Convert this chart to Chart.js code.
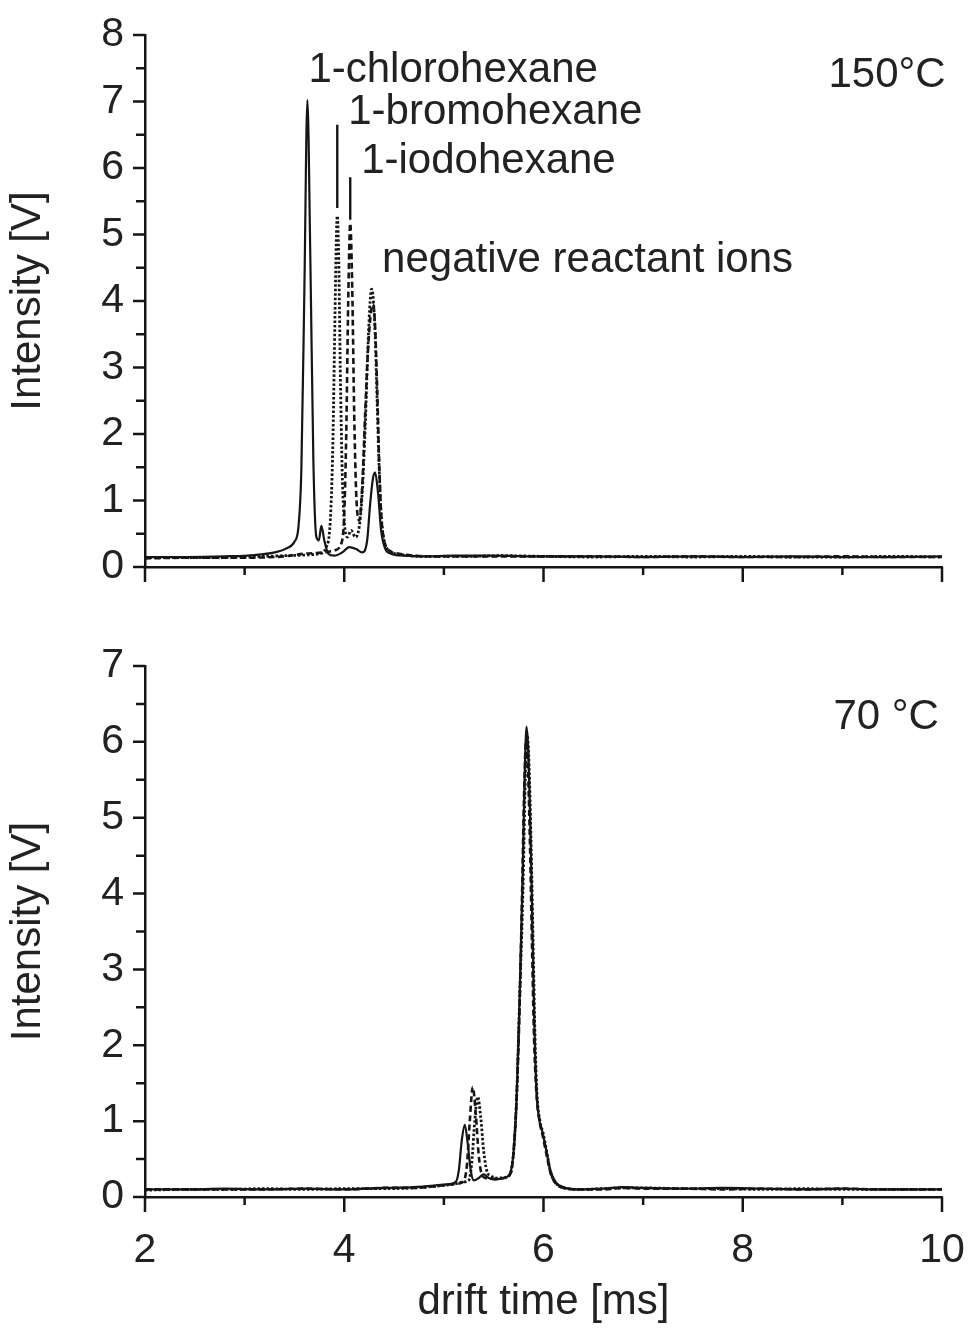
<!DOCTYPE html>
<html>
<head>
<meta charset="utf-8">
<script src="https://cdn.jsdelivr.net/npm/chart.js@4.4.0/dist/chart.umd.min.js"></script>
<style>
  html, body { margin: 0; padding: 0; background: #fff; }
  #wrap { position: relative; width: 968px; height: 1332px; }
  #wrap canvas { position: absolute; left: 0; }
</style>
</head>
<body>
<div id="wrap">
  <canvas id="hot" width="968" height="620" style="top:0"></canvas>
  <canvas id="cold" width="968" height="712" style="top:620px"></canvas>
</div>
<script>
// drift time [ms], intensity [V]
// 150 °C
const chloro150 = [
  [2.0,0.15],[2.4,0.15],[2.8,0.16],[3.1,0.18],[3.3,0.22],[3.42,0.28],[3.5,0.38],[3.54,0.6],
  [3.57,1.5],[3.6,4.2],[3.63,7.02],[3.66,4.6],[3.69,1.6],[3.72,0.45],[3.745,0.4],[3.77,0.62],
  [3.8,0.4],[3.84,0.2],[3.9,0.17],[3.98,0.22],[4.05,0.3],[4.12,0.27],[4.18,0.22],[4.23,0.4],
  [4.26,0.95],[4.29,1.35],[4.31,1.42],[4.34,1.1],[4.37,0.55],[4.41,0.28],[4.47,0.2],[4.6,0.17],
  [4.8,0.16],[5.1,0.17],[5.5,0.17],[6.0,0.16],[6.5,0.16],[7.0,0.15],[7.5,0.16],[8.0,0.15],
  [8.5,0.16],[9.0,0.15],[9.5,0.15],[10.0,0.16]
];
const bromo150 = [
  [2.0,0.14],[2.5,0.14],[3.0,0.15],[3.4,0.17],[3.6,0.18],[3.75,0.2],[3.82,0.3],[3.86,0.7],
  [3.885,1.8],[3.905,3.6],[3.92,4.9],[3.93,5.28],[3.945,4.6],[3.96,3.0],[3.98,1.4],[4.0,0.7],
  [4.03,0.45],[4.07,0.55],[4.11,0.45],[4.15,0.6],[4.18,1.1],[4.21,2.1],[4.24,3.4],[4.26,4.0],
  [4.275,4.18],[4.29,4.05],[4.31,3.5],[4.33,2.5],[4.35,1.5],[4.37,0.8],[4.4,0.4],[4.45,0.25],
  [4.6,0.18],[4.8,0.16],[5.2,0.16],[5.6,0.17],[6.0,0.16],[6.5,0.15],[7.0,0.16],[7.5,0.15],
  [8.0,0.16],[8.5,0.15],[9.0,0.15],[9.5,0.16],[10.0,0.15]
];
const iodo150 = [
  [2.0,0.13],[2.5,0.14],[3.0,0.14],[3.4,0.16],[3.6,0.2],[3.8,0.22],[3.9,0.25],[3.97,0.35],
  [4.0,0.8],[4.02,2.0],[4.04,4.0],[4.06,5.17],[4.08,4.2],[4.1,2.3],[4.12,1.1],[4.15,0.7],
  [4.18,1.2],[4.21,2.3],[4.24,3.3],[4.27,3.85],[4.29,3.95],[4.31,3.6],[4.33,2.7],[4.35,1.6],
  [4.37,0.8],[4.4,0.4],[4.45,0.25],[4.55,0.2],[4.7,0.17],[5.0,0.16],[5.5,0.16],[6.0,0.16],
  [6.5,0.16],[7.0,0.15],[7.5,0.16],[8.0,0.15],[8.5,0.15],[9.0,0.16],[9.5,0.15],[10.0,0.15]
];

// 70 °C
const chloro70 = [
  [2.0,0.1],[2.4,0.1],[2.8,0.11],[3.2,0.1],[3.6,0.11],[4.0,0.1],[4.4,0.12],[4.7,0.13],
  [4.9,0.15],[5.05,0.17],[5.12,0.2],[5.15,0.35],[5.18,0.75],[5.21,0.95],[5.24,0.7],[5.27,0.35],
  [5.3,0.22],[5.35,0.25],[5.4,0.3],[5.45,0.25],[5.52,0.23],[5.6,0.25],[5.66,0.3],[5.7,0.6],
  [5.73,1.3],[5.76,2.6],[5.79,4.2],[5.81,5.5],[5.83,6.2],[5.85,5.8],[5.87,4.8],[5.89,3.5],
  [5.91,2.2],[5.93,1.4],[5.96,1.0],[5.99,0.85],[6.03,0.6],[6.07,0.35],[6.12,0.2],[6.2,0.13],
  [6.35,0.1],[6.6,0.11],[6.8,0.13],[7.0,0.12],[7.4,0.11],[7.8,0.12],[8.2,0.11],[8.6,0.1],
  [9.0,0.11],[9.4,0.1],[10.0,0.1]
];
const bromo70 = [
  [2.0,0.09],[2.4,0.1],[2.8,0.1],[3.2,0.11],[3.6,0.1],[4.0,0.11],[4.4,0.11],[4.7,0.12],
  [4.9,0.14],[5.1,0.17],[5.2,0.2],[5.25,0.22],[5.28,0.45],[5.31,1.0],[5.34,1.32],[5.37,1.05],
  [5.4,0.6],[5.43,0.35],[5.47,0.28],[5.55,0.25],[5.62,0.26],[5.67,0.32],[5.7,0.6],[5.73,1.3],
  [5.76,2.6],[5.795,4.1],[5.815,5.4],[5.835,6.1],[5.855,5.7],[5.875,4.7],[5.895,3.4],[5.915,2.1],
  [5.935,1.35],[5.965,1.0],[5.995,0.85],[6.035,0.58],[6.07,0.33],[6.12,0.19],[6.2,0.12],[6.35,0.1],
  [6.6,0.11],[6.8,0.12],[7.0,0.12],[7.4,0.11],[7.8,0.11],[8.2,0.1],[8.6,0.11],[9.0,0.1],
  [9.4,0.1],[10.0,0.1]
];
const iodo70 = [
  [2.0,0.1],[2.4,0.1],[2.8,0.1],[3.2,0.1],[3.6,0.11],[4.0,0.1],[4.4,0.12],[4.7,0.12],
  [4.9,0.14],[5.1,0.17],[5.18,0.19],[5.23,0.4],[5.26,1.0],[5.29,1.45],[5.32,1.1],[5.35,0.55],
  [5.38,0.3],[5.42,0.25],[5.5,0.24],[5.6,0.25],[5.67,0.31],[5.7,0.6],[5.73,1.3],[5.76,2.5],
  [5.785,4.0],[5.805,5.3],[5.825,6.0],[5.845,5.6],[5.865,4.6],[5.885,3.3],[5.905,2.1],[5.93,1.35],
  [5.96,1.0],[5.99,0.82],[6.03,0.56],[6.07,0.32],[6.12,0.18],[6.2,0.12],[6.35,0.1],[6.6,0.1],
  [6.8,0.12],[7.0,0.11],[7.4,0.11],[7.8,0.1],[8.2,0.11],[8.6,0.1],[9.0,0.11],[9.4,0.1],
  [10.0,0.1]
];

const xMajorTicks = [2, 4, 6, 8, 10];
const xMinorTicks = [3, 5, 7, 9];
const yMajorHot = [0, 1, 2, 3, 4, 5, 6, 7, 8];
const yMinorHot = [0.5, 1.5, 2.5, 3.5, 4.5, 5.5, 6.5, 7.5];
const yMajorCold = [0, 1, 2, 3, 4, 5, 6, 7];
const yMinorCold = [0.5, 1.5, 2.5, 3.5, 4.5, 5.5, 6.5];

const INK = '#151515';
const TEXT = '#222';
const FONT = "'Liberation Sans', Arial, sans-serif";

function series(points, dash, width) {
  return {
    data: points.map(p => ({ x: p[0], y: p[1] })),
    borderColor: INK,
    borderWidth: width || 2,
    borderDash: dash,
    pointRadius: 0,
    fill: false,
    cubicInterpolationMode: 'monotone'
  };
}

// ticks (outward, major/minor), text labels and marker lines
function decor(yMajor, yMinor, notes, markers) {
  return {
    id: 'decor',
    afterDraw(chart) {
      const { ctx, chartArea } = chart;
      const xs = chart.scales.x, ys = chart.scales.y;
      ctx.save();
      ctx.strokeStyle = INK;
      ctx.lineWidth = 2.5;
      ctx.beginPath();
      yMajor.forEach(v => { const p = ys.getPixelForValue(v); ctx.moveTo(chartArea.left - 12, p); ctx.lineTo(chartArea.left, p); });
      yMinor.forEach(v => { const p = ys.getPixelForValue(v); ctx.moveTo(chartArea.left - 9, p); ctx.lineTo(chartArea.left, p); });
      xMajorTicks.forEach(v => { const p = xs.getPixelForValue(v); ctx.moveTo(p, chartArea.bottom); ctx.lineTo(p, chartArea.bottom + 15); });
      xMinorTicks.forEach(v => { const p = xs.getPixelForValue(v); ctx.moveTo(p, chartArea.bottom); ctx.lineTo(p, chartArea.bottom + 8); });
      ctx.stroke();

      ctx.lineWidth = 2.4;
      ctx.beginPath();
      markers.forEach(m => {
        const px = xs.getPixelForValue(m.x);
        ctx.moveTo(px, ys.getPixelForValue(m.from));
        ctx.lineTo(px, ys.getPixelForValue(m.to));
      });
      ctx.stroke();

      ctx.fillStyle = TEXT;
      ctx.font = '42px ' + FONT;
      ctx.textBaseline = 'alphabetic';
      ctx.textAlign = 'left';
      notes.forEach(n => ctx.fillText(n.text, xs.getPixelForValue(n.x), ys.getPixelForValue(n.y)));
      ctx.restore();
    }
  };
}

function options(yMax, showX, padTop, xHeight) {
  return {
    responsive: false,
    animation: false,
    layout: { padding: { top: padTop, right: 26, left: 0, bottom: 0 } },
    plugins: { legend: { display: false }, tooltip: { enabled: false } },
    scales: {
      x: {
        type: 'linear', min: 2, max: 10,
        grid: { display: true, drawOnChartArea: false, drawTicks: false },
        border: { display: true, color: INK, width: 2.5 },
        ticks: { display: showX, stepSize: 2, padding: 29, color: TEXT, font: { family: FONT, size: 41 } },
        title: { display: showX, text: 'drift time [ms]', color: TEXT, font: { family: FONT, size: 42 }, padding: { top: 0, bottom: 4 } },
        afterFit(s) { s.height = xHeight; s.paddingLeft = 0; s.paddingRight = 0; }
      },
      y: {
        min: 0, max: yMax,
        grid: { display: true, drawOnChartArea: false, drawTicks: false },
        border: { display: true, color: INK, width: 2.5 },
        ticks: { stepSize: 1, padding: 21, color: TEXT, font: { family: FONT, size: 41 } },
        title: { display: true, text: 'Intensity [V]', color: TEXT, font: { family: FONT, size: 42 }, padding: { top: 3, bottom: 0 } },
        afterFit(s) { s.width = 145; s.paddingTop = 0; s.paddingBottom = 0; }
      }
    }
  };
}

new Chart(document.getElementById('hot'), {
  type: 'line',
  data: {
    datasets: [
      series(chloro150, [], 2.2),
      series(bromo150, [2.5, 2], 2.8),
      series(iodo150, [6, 3.5], 2.6)
    ]
  },
  options: options(8, false, 35, 53),
  plugins: [decor(yMajorHot, yMinorHot,
    [
      { text: '1-chlorohexane', x: 3.64, y: 7.29 },
      { text: '1-bromohexane', x: 4.04, y: 6.66 },
      { text: '1-iodohexane', x: 4.17, y: 5.92 },
      { text: 'negative reactant ions', x: 4.38, y: 4.44 },
      { text: '150°C', x: 8.86, y: 7.22 }
    ],
    [
      { x: 3.93, from: 5.4, to: 6.65 },
      { x: 4.06, from: 5.22, to: 5.86 }
    ])]
});

new Chart(document.getElementById('cold'), {
  type: 'line',
  data: {
    datasets: [
      series(chloro70, [], 2.2),
      series(bromo70, [2.5, 2], 2.8),
      series(iodo70, [6, 3.5], 2.6)
    ]
  },
  options: options(7, true, 46, 135),
  plugins: [decor(yMajorCold, yMinorCold,
    [{ text: '70 °C', x: 8.91, y: 6.17 }],
    [])]
});
</script>
</body>
</html>
